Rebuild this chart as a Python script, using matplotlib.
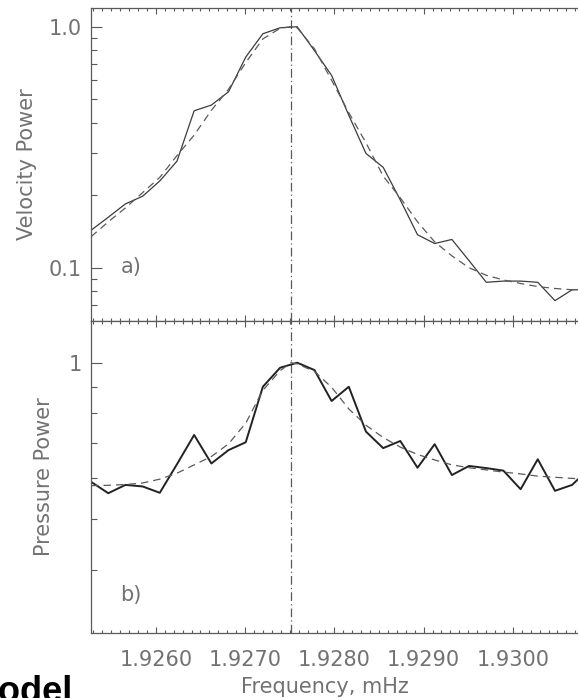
import matplotlib
matplotlib.use("Agg")
import matplotlib.pyplot as plt
from matplotlib.ticker import FixedLocator, FixedFormatter, MultipleLocator, FormatStrFormatter, NullFormatter

# --- data ---
freq = [1.925274, 1.925467, 1.925659, 1.925852, 1.926044, 1.926237,
        1.926429, 1.926622, 1.926814, 1.927007, 1.927199, 1.927392,
        1.927584, 1.927777, 1.927969, 1.928162, 1.928354, 1.928547,
        1.928739, 1.928932, 1.929124, 1.929317, 1.929509, 1.929702,
        1.929894, 1.930087, 1.930279, 1.930472, 1.930664, 1.930857]

vel_power = [0.143, 0.162, 0.184, 0.198, 0.229, 0.277, 0.448, 0.473, 0.537,
             0.748, 0.935, 0.990, 1.000, 0.796, 0.628, 0.429, 0.298, 0.261,
             0.191, 0.137, 0.126, 0.131, 0.107, 0.087, 0.088, 0.088, 0.087,
             0.073, 0.081, 0.081]

pres_power = [0.590, 0.561, 0.582, 0.578, 0.562, 0.638, 0.726, 0.640, 0.679,
              0.703, 0.899, 0.978, 1.000, 0.968, 0.844, 0.899, 0.737, 0.685,
              0.707, 0.628, 0.697, 0.608, 0.633, 0.627, 0.620, 0.571, 0.652,
              0.567, 0.582, 0.626]

peak_freq = 1.927512
fit_freq = freq[:12] + [peak_freq] + freq[12:]

vel_fit = [0.1345, 0.155, 0.177, 0.205, 0.237, 0.292, 0.355, 0.45, 0.55,
           0.71, 0.89, 0.985, 1.0, 0.99, 0.81, 0.60, 0.44, 0.33, 0.24,
           0.195, 0.155, 0.128, 0.112, 0.100, 0.093, 0.089, 0.086, 0.0835,
           0.082, 0.081, 0.0805]

pres_fit = [0.580, 0.581, 0.583, 0.587, 0.597, 0.613, 0.636, 0.660, 0.698,
            0.765, 0.885, 0.965, 1.0, 0.995, 0.962, 0.897, 0.815, 0.758,
            0.718, 0.688, 0.666, 0.650, 0.636, 0.628, 0.622, 0.616, 0.611,
            0.605, 0.602, 0.599, 0.596]

xticks = [1.9260, 1.9270, 1.9280, 1.9290, 1.9300]

GREY = "#5a5a5a"
TXT = "#727272"
FS = 15

plt.rcParams.update({
    "font.family": ["DejaVu Sans"],
    "font.size": FS,
    "axes.linewidth": 0.9,
    "axes.edgecolor": GREY,
    "xtick.color": GREY,
    "ytick.color": GREY,
    "xtick.labelcolor": TXT,
    "ytick.labelcolor": TXT,
})

W, H = 578, 698
fig = plt.figure(figsize=(W / 100, H / 100), dpi=100)

left = 90.7 / W
width = 511 / W
ax_a = fig.add_axes([left, 1 - 321 / H, width, 313 / H])
ax_b = fig.add_axes([left, 1 - 633 / H, width, 312 / H])

xlim = (1.92527, 1.9309955)

for ax in (ax_a, ax_b):
    ax.set_yscale("log")
    ax.set_xlim(*xlim)
    ax.xaxis.set_major_locator(FixedLocator(xticks))
    ax.xaxis.set_minor_locator(MultipleLocator(0.0001))
    ax.tick_params(axis="x", which="both", direction="in", top=True, bottom=True,
                   labelsize=FS, pad=12.2, width=0.8)
    ax.tick_params(axis="x", which="major", length=4.3)
    ax.tick_params(axis="x", which="minor", length=2.2)
    ax.tick_params(axis="y", which="both", direction="in", left=True, right=True,
                   labelsize=FS, pad=6.5, width=0.8)
    ax.tick_params(axis="y", which="major", length=7.9)
    ax.tick_params(axis="y", which="minor", length=4.3)
    ax.axvline(peak_freq, color=GREY, lw=0.9, dashes=(7, 2.5, 1, 2.5))

# panel a
ax_a.plot(freq, vel_power, color="#3c3c3c", lw=0.9)
ax_a.plot(fit_freq, vel_fit, color=GREY, lw=0.9, dashes=(6, 4))
ax_a.set_ylim(0.0601, 1.196)
ax_a.yaxis.set_major_locator(FixedLocator([0.1, 1.0]))
ax_a.yaxis.set_major_formatter(FixedFormatter(["0.1", "1.0"]))
ax_a.yaxis.set_minor_locator(FixedLocator([0.07, 0.08, 0.09, 0.2, 0.3, 0.4,
                                           0.5, 0.6, 0.7, 0.8, 0.9]))
ax_a.yaxis.set_minor_formatter(NullFormatter())
ax_a.tick_params(axis="x", which="both", labelbottom=False)
ax_a.set_ylabel("Velocity Power", color=TXT, fontsize=FS)
ax_a.yaxis.set_label_coords((27 - 90.7) / 511, 0.5)
ax_a.yaxis.label.set_verticalalignment("center")
ax_a.text((131 - 90.7) / 511, (321 - 267) / 313, "a)", transform=ax_a.transAxes,
          ha="center", va="center", color=TXT, fontsize=FS)

# panel b
ax_b.plot(freq, pres_power, color="#222222", lw=1.4)
ax_b.plot(fit_freq, pres_fit, color=GREY, lw=0.9, dashes=(6, 4))
ax_b.set_ylim(0.302, 1.203)
ax_b.yaxis.set_major_locator(FixedLocator([1.0]))
ax_b.yaxis.set_major_formatter(FixedFormatter(["1"]))
ax_b.yaxis.set_minor_locator(FixedLocator([0.4, 0.5, 0.6, 0.7, 0.8, 0.9]))
ax_b.yaxis.set_minor_formatter(NullFormatter())
ax_b.xaxis.set_major_formatter(FormatStrFormatter("%.4f"))
ax_b.set_ylabel("Pressure Power", color=TXT, fontsize=FS)
ax_b.yaxis.set_label_coords((44 - 90.7) / 511, 0.5)
ax_b.yaxis.label.set_verticalalignment("center")
ax_b.text((131 - 90.7) / 511, (633 - 595) / 312, "b)", transform=ax_b.transAxes,
          ha="center", va="center", color=TXT, fontsize=FS)
ax_b.set_xlabel("Frequency, mHz", color=TXT, fontsize=FS)
ax_b.xaxis.set_label_coords((325 - 90.7) / 511, -(687 - 633) / 312)
ax_b.xaxis.label.set_verticalalignment("center")

# cropped caption fragment at the lower left of the scan
fig.text(-31 / W, (698 - 702) / H, "Model", fontsize=26, fontweight="bold",
         family=["Liberation Sans", "DejaVu Sans"], color="black",
         ha="left", va="baseline")

fig.savefig("out.png", dpi=100)
